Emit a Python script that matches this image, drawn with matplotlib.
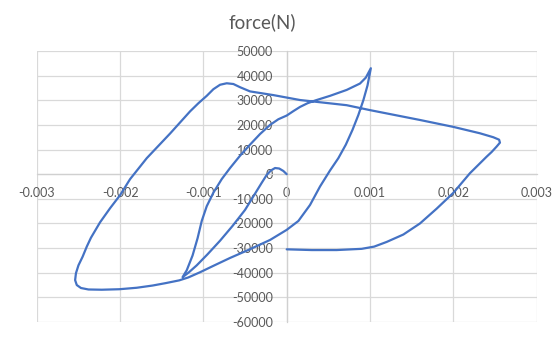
import matplotlib
matplotlib.use("Agg")
import matplotlib.pyplot as plt

# displacement (m) and force (N), in drawing order
disp = [
    0.0, -0.00004, -0.00009, -0.00014, -0.00019, -0.00024, -0.0003, -0.0004, -0.0005,
    -0.00065, -0.0008, -0.00095, -0.00108, -0.00118, -0.00125,
    -0.0012, -0.00113, -0.00107, -0.00102, -0.00096, -0.00088, -0.00078, -0.00068,
    -0.00056, -0.00044, -0.00032, -0.0002, -0.0001, 0.0, 0.00008, 0.00016, 0.00025,
    0.00035, 0.00052, 0.00072, 0.00088, 0.00095, 0.00101,
    0.00097, 0.00092, 0.00086, 0.00079, 0.00071, 0.00062, 0.00052, 0.0004, 0.00028,
    0.00014, 0.0, -0.0002, -0.00045, -0.00068, -0.00088, -0.00104, -0.00118,
    -0.00129, -0.00145, -0.00161, -0.0018, -0.00201, -0.00222, -0.00238, -0.00247,
    -0.00252, -0.00254, -0.00253, -0.0025, -0.00245, -0.0024, -0.00235, -0.00224,
    -0.00212, -0.002, -0.00188, -0.00168, -0.00154, -0.0014, -0.00128, -0.00116,
    -0.00106, -0.00096, -0.00088, -0.0008, -0.00072, -0.00064, -0.00056, -0.00044,
    -0.00016, 0.00016, 0.00072, 0.001, 0.0016, 0.002, 0.00232, 0.00248, 0.00255,
    0.00256, 0.00252, 0.00246, 0.0024, 0.0022, 0.002, 0.0018, 0.0016, 0.0014,
    0.0012, 0.00105, 0.0009, 0.0006, 0.0003, 0.0,
]
force = [
    0, 1300, 2300, 2500, 1500, -300, -3500, -9000, -14500,
    -21000, -27000, -32500, -37000, -40000, -41800,
    -39000, -33000, -26000, -19000, -13000, -7500, -2000, 2500,
    7500, 12000, 16300, 20000, 22300, 23800, 25600, 27300, 28800,
    30000, 31800, 34200, 36800, 39200, 43000,
    36000, 30000, 24000, 18000, 12000, 6500, 1500, -5000, -12500,
    -19000, -22600, -26700, -30600, -34000, -37200, -39800, -41900,
    -43100, -44200, -45200, -46100, -46700, -46900, -46800, -46200,
    -45000, -43000, -40200, -37000, -33500, -29400, -25800, -19500,
    -13800, -8500, -2000, 6500, 11500, 16500, 21000, 25500,
    28800, 31800, 34500, 36300, 36900, 36600, 35300, 33600,
    32100, 30100, 28000, 26000, 22000, 19200, 16600, 15000, 14000,
    12800, 11200, 9000, 7100, 400, -7600, -14000, -20000, -24500,
    -27500, -29400, -30300, -30800, -30800, -30500,
]

x_ticks = [-0.003, -0.002, -0.001, 0, 0.001, 0.002, 0.003]
x_labels = ["-0.003", "-0.002", "-0.001", "0", "0.001", "0.002", "0.003"]
y_ticks = [50000, 40000, 30000, 20000, 10000, 0, -10000, -20000, -30000,
           -40000, -50000, -60000]
y_labels = [str(v) for v in y_ticks]
title = "force(N)"

plt.rcParams['font.family'] = ['Lato', 'DejaVu Sans']

fig = plt.figure(figsize=(5.53, 3.38), dpi=100)
ax = fig.add_axes([36.8 / 553, 1 - 322 / 338, (536.6 - 36.8) / 553, (322 - 51) / 338])

ax.plot(disp, force, color="#4472C4", lw=1.6, solid_joinstyle="round",
        solid_capstyle="round", zorder=3)

ax.set_xlim(-0.003, 0.003)
ax.set_ylim(-60000, 50000)
ax.set_xticks(x_ticks)
ax.set_yticks(y_ticks)
ax.set_xticklabels(x_labels)
ax.set_yticklabels(y_labels)
ax.grid(True, color="#d9d9d9", lw=0.9)
ax.set_axisbelow(True)

for s in ["top", "right"]:
    ax.spines[s].set_visible(False)
ax.spines["left"].set_position(("data", 0))
ax.spines["bottom"].set_position(("data", 0))
for s in ["left", "bottom"]:
    ax.spines[s].set_color("#d0d0d0")
    ax.spines[s].set_linewidth(0.9)

ax.tick_params(axis="both", length=0, labelsize=9, labelcolor="#595959")
ax.tick_params(axis="y", pad=10)
ax.tick_params(axis="x", pad=9)

fig.text(262 / 553, 1 - 22 / 338, title, ha="center", va="center",
         fontsize=13.5, color="#595959")

fig.savefig("out.png", dpi=100)
